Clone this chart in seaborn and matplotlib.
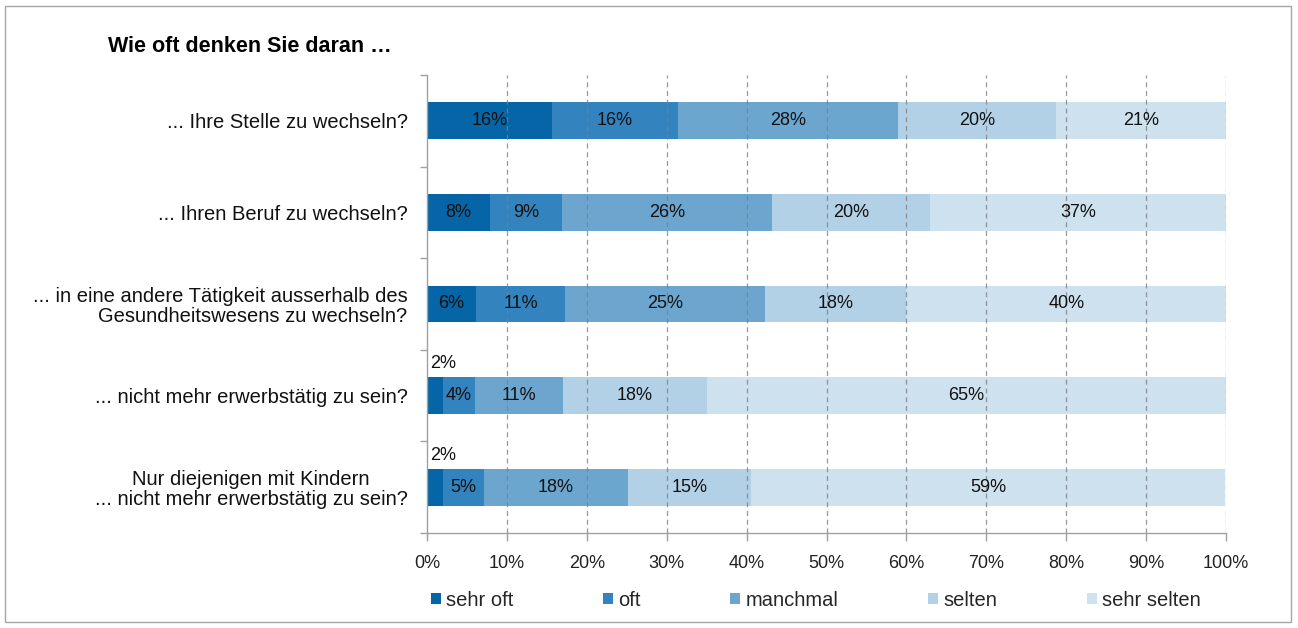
import numpy as np
import pandas as pd
import matplotlib
matplotlib.use("Agg")
import matplotlib.pyplot as plt
import seaborn as sns
from matplotlib.patches import Rectangle, Patch

# ---- data ----
questions = [
    "... Ihre Stelle zu wechseln?",
    "... Ihren Beruf zu wechseln?",
    "... in eine andere Tätigkeit ausserhalb des\nGesundheitswesens zu wechseln?",
    "... nicht mehr erwerbstätig zu sein?",
    "Nur diejenigen mit Kindern\n... nicht mehr erwerbstätig zu sein?",
]
levels = ["sehr oft", "oft", "manchmal", "selten", "sehr selten"]
sehr_oft = [15.6, 7.9, 6.1, 2.0, 2.0]
oft = [15.8, 9.0, 11.2, 4.0, 5.1]
manchmal = [27.6, 26.3, 25.0, 11.0, 18.1]
selten = [19.7, 19.7, 17.7, 18.0, 15.3]
sehr_selten = [21.3, 37.1, 40.0, 65.0, 59.4]
title = "Wie oft denken Sie daran …"

colors = ["#0565A6", "#3383BE", "#6CA6CF", "#B3D1E6", "#CEE1EE"]

sns.set_theme(style="white")
plt.rcParams["font.family"] = ["Liberation Sans", "DejaVu Sans"]

vals = np.array([sehr_oft, oft, manchmal, selten, sehr_selten]).T  # rows=questions
cum = np.cumsum(vals, axis=1)

fig = plt.figure(figsize=(12.98, 6.28), dpi=100)
ax = fig.add_axes([427/1298, 1-533/628, (1226-427)/1298, (533-75)/628])

df = pd.DataFrame(cum, columns=levels)
df["Frage"] = questions
for k in range(len(levels)-1, -1, -1):
    sns.barplot(data=df, x=levels[k], y="Frage", color=colors[k], width=0.4,
                orient="h", ax=ax, linewidth=0, saturation=1, zorder=2)

ax.set_xlim(0, 100)
ax.set_ylim(4.5, -0.5)
ax.set_xlabel("")
ax.set_ylabel("")

# gridlines
for xv in range(10, 101, 10):
    ax.axvline(xv, color="#7f7f7f", lw=0.9, ls=(0, (4, 3)), zorder=3, alpha=0.8)

ax.set_xticks(range(0, 101, 10))
ax.set_xticklabels([f"{v}%" for v in range(0, 101, 10)], fontsize=13)
ax.tick_params(axis="x", direction="out", length=6, width=1, color="#a0a0a0",
               pad=10, bottom=True, labelcolor="#222222")
ax.set_yticks(range(len(questions)))
ax.set_yticklabels(questions, fontsize=14.5, linespacing=1.05)
aligns = ["right", "right", "right", "right", "center"]
for t, a in zip(ax.get_yticklabels(), aligns):
    t.set_multialignment(a)
ax.tick_params(axis="y", length=0, pad=14, labelcolor="#111111")
ax.set_yticks(np.arange(-0.5, len(questions), 1), minor=True)
ax.tick_params(axis="y", which="minor", direction="out", length=5, width=1,
               color="#a0a0a0", left=True)

for s in ["top", "right"]:
    ax.spines[s].set_visible(False)
for s in ["left", "bottom"]:
    ax.spines[s].set_color("#a0a0a0")
    ax.spines[s].set_linewidth(1)
    ax.spines[s].set_zorder(4)

# value labels
for i in range(len(questions)):
    for k in range(len(levels)):
        v = vals[i, k]
        lab = f"{round(v):.0f}%"
        if v < 3:
            ax.text(0.4, i - 0.35, lab, ha="left", va="center", fontsize=13,
                    color="#111111", zorder=5)
        else:
            ax.text(cum[i, k] - v/2, i, lab, ha="center", va="center",
                    fontsize=13, color="#111111", zorder=5)

# legend
handles = [Patch(facecolor=c, edgecolor="none") for c in colors]
fig.legend(handles, levels, loc="center left", bbox_to_anchor=(431/1298, 1-600/628),
           ncol=5, frameon=False, fontsize=14.5, handlelength=0.5, handleheight=0.5,
           handletextpad=0.25, columnspacing=4.45, borderaxespad=0, borderpad=0)

fig.text(108/1298, 1-52/628, title, fontsize=15.5, fontweight="bold",
         ha="left", va="baseline", color="#000000")

fig.patches.append(Rectangle((5/1298, 6/628), 1286/1298, 616/628,
                             transform=fig.transFigure, fill=False,
                             edgecolor="#a6a6a6", lw=1))

fig.savefig("out.png", dpi=100)
